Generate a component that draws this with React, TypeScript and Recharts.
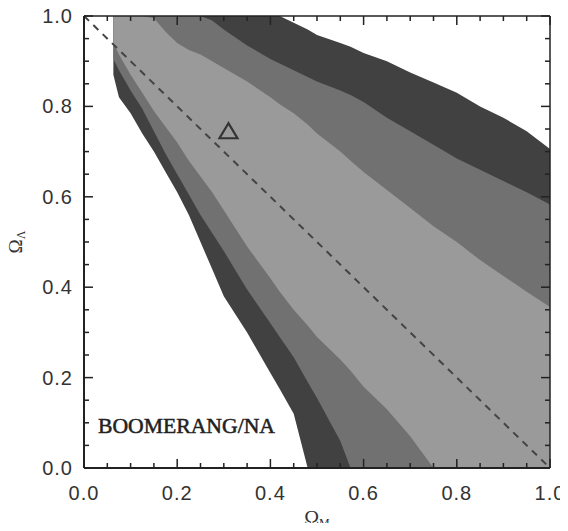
import { ComposedChart, Area, XAxis, YAxis, Scatter, ReferenceLine, ReferenceDot } from "recharts";

// Omega_M samples where the contour edges were read
const omegaM = [0.063, 0.075, 0.1, 0.125, 0.15, 0.175, 0.2, 0.225, 0.25, 0.275, 0.3, 0.35, 0.4, 0.42, 0.45, 0.48, 0.5, 0.55, 0.572, 0.6, 0.65, 0.7, 0.75, 0.8, 0.85, 0.9, 0.95, 1.0];

// outer (dark) band
const darkLow = [0.87, 0.82, 0.785, 0.74, 0.7, 0.655, 0.61, 0.56, 0.5, 0.44, 0.38, 0.3, 0.21, 0.175, 0.12, 0, 0, 0, 0, 0, 0, 0, 0, 0, 0, 0, 0, 0];
const darkHigh = [1, 1, 1, 1, 1, 1, 1, 1, 1, 1, 1, 1, 1, 1, 0.985, 0.97, 0.958, 0.94, 0.932, 0.918, 0.9, 0.875, 0.853, 0.83, 0.8, 0.775, 0.745, 0.706];

// middle band
const midLow = [0.905, 0.88, 0.835, 0.795, 0.745, 0.695, 0.65, 0.605, 0.56, 0.52, 0.48, 0.395, 0.32, 0.29, 0.245, 0.19, 0.155, 0.06, 0, 0, 0, 0, 0, 0, 0, 0, 0, 0];
const midHigh = [1, 1, 1, 1, 1, 1, 1, 1, 1, 0.99, 0.97, 0.935, 0.905, 0.895, 0.88, 0.865, 0.855, 0.835, 0.825, 0.81, 0.775, 0.745, 0.715, 0.685, 0.66, 0.635, 0.61, 0.583];

// inner (light) band
const coreLow = [0.94, 0.915, 0.87, 0.83, 0.79, 0.755, 0.72, 0.68, 0.645, 0.61, 0.57, 0.49, 0.42, 0.39, 0.35, 0.315, 0.29, 0.24, 0.215, 0.18, 0.13, 0.07, 0, 0, 0, 0, 0, 0];
const coreHigh = [1, 1, 1, 1, 0.995, 0.965, 0.94, 0.925, 0.915, 0.9, 0.885, 0.855, 0.82, 0.805, 0.785, 0.76, 0.74, 0.7, 0.68, 0.655, 0.615, 0.575, 0.535, 0.5, 0.46, 0.425, 0.39, 0.356];

const flatLine = [{ x: 0, y: 1 }, { x: 1, y: 0 }];
const bestFit = [{ m: 0.31, l: 0.745 }];
const labelPoint = { m: 0.03, l: 0.077 };

const majorTicks = [0, 0.2, 0.4, 0.6, 0.8, 1.0];
const minorTicks = [0, 0.05, 0.1, 0.15, 0.2, 0.25, 0.3, 0.35, 0.4, 0.45, 0.5, 0.55, 0.6, 0.65, 0.7, 0.75, 0.8, 0.85, 0.9, 0.95, 1.0];

const bands = omegaM.map((m, i) => ({
  m,
  dark: [darkLow[i], darkHigh[i]],
  mid: [midLow[i], midHigh[i]],
  core: [coreLow[i], coreHigh[i]],
}));

const isMajor = (v: number) => majorTicks.some((t) => Math.abs(t - v) < 1e-6);

// inward tick marks on all four sides, one table (side: b, t, l, r)
const tickMarks = [
  ...minorTicks.map((v) => ({ m: v, l: 0, side: "b", len: isMajor(v) ? 9 : 5 })),
  ...minorTicks.map((v) => ({ m: v, l: 1, side: "t", len: isMajor(v) ? 9 : 5 })),
  ...minorTicks.map((v) => ({ m: 0, l: v, side: "l", len: isMajor(v) ? 9 : 5 })),
  ...minorTicks.map((v) => ({ m: 1, l: v, side: "r", len: isMajor(v) ? 9 : 5 })),
];

const AXIS = "#222";
const TICK_FONT = "'Liberation Sans', Arial, sans-serif";
const SERIF = "'Liberation Serif', 'Times New Roman', serif";

const TickMark = (p: any) => {
  const cx = Number(p.cx);
  const cy = Number(p.cy);
  const d = p.payload || {};
  const len = d.len || 5;
  if (d.side === "b") return <rect x={cx - 0.75} y={cy - len} width={1.5} height={len} fill={AXIS} />;
  if (d.side === "t") return <rect x={cx - 0.75} y={cy} width={1.5} height={len} fill={AXIS} />;
  if (d.side === "l") return <rect x={cx} y={cy - 0.75} width={len} height={1.5} fill={AXIS} />;
  return <rect x={cx - len} y={cy - 0.75} width={len} height={1.5} fill={AXIS} />;
};

const NoLabel = () => <g />;

const BottomLabel = ({ x, y, payload }: any) => (
  <text x={x} y={y + 32} textAnchor="middle" fontFamily={TICK_FONT} fontSize={20} letterSpacing={1} fill="#333">
    {payload.value.toFixed(1)}
  </text>
);

const LeftLabel = ({ x, y, payload }: any) => (
  <text x={x - 11} y={y + 7} textAnchor="end" fontFamily={TICK_FONT} fontSize={20} letterSpacing={1} fill="#333">
    {payload.value.toFixed(1)}
  </text>
);

const XTitle = (props: any) => {
  const { x, y, width } = props.viewBox;
  return (
    <text x={x + width / 2} y={y + 57} textAnchor="middle" fontFamily={SERIF} fontSize={20} fill="#333">
      Ω<tspan dy={2} fontSize={12}>M</tspan>
    </text>
  );
};

const YTitle = (props: any) => {
  const { x, y, height } = props.viewBox;
  const cx = x - 2;
  const cy = y + height / 2;
  return (
    <text x={cx} y={cy} transform={`rotate(-90, ${cx}, ${cy})`} textAnchor="middle" fontFamily={SERIF} fontSize={19} fill="#333">
      Ω<tspan dy={3} fontSize={12}>Λ</tspan>
    </text>
  );
};

const TriangleMark = ({ cx, cy }: any) => (
  <polygon points={`${cx},${cy - 8} ${cx - 9},${cy + 7} ${cx + 9},${cy + 7}`} fill="none" stroke="#333" strokeWidth={2.2} />
);

const ExperimentLabel = ({ cx, cy }: any) => (
  <text x={cx} y={cy} fontFamily={SERIF} fontSize={21} fill="#222" stroke="#222" strokeWidth={0.5} textLength={177} lengthAdjust="spacingAndGlyphs">
    BOOMERANG/NA
  </text>
);

// mirrored helper axes: native tick lines drawn inside the box
const tickAxisProps = {
  type: "number" as const,
  domain: [0, 1],
  mirror: true,
  interval: 0,
  axisLine: false,
  tickMargin: 0,
  tick: NoLabel,
  tickLine: { stroke: AXIS, strokeWidth: 1.5 },
};

export default function App() {
  return (
    <div style={{ width: 568, height: 531, margin: -8 }}>
      <ComposedChart width={568} height={531} data={bands} margin={{ top: 16, right: 18, bottom: 0, left: 24 }}>
        <XAxis
          dataKey="m"
          type="number"
          domain={[0, 1]}
          ticks={majorTicks}
          interval={0}
          tickSize={0}
          tickMargin={0}
          tickLine={false}
          tick={BottomLabel}
          height={63}
          axisLine={{ stroke: AXIS, strokeWidth: 2 }}
          label={XTitle}
        />
        <YAxis
          type="number"
          domain={[0, 1]}
          ticks={majorTicks}
          interval={0}
          tickSize={0}
          tickMargin={0}
          tickLine={false}
          tick={LeftLabel}
          width={60}
          axisLine={{ stroke: AXIS, strokeWidth: 2 }}
          label={YTitle}
        />
        <XAxis xAxisId="bMinor" orientation="bottom" height={0} ticks={minorTicks} tickSize={5} {...tickAxisProps} />
        <XAxis xAxisId="bMajor" orientation="bottom" height={0} ticks={majorTicks} tickSize={9} {...tickAxisProps} />
        <XAxis xAxisId="tMinor" orientation="top" height={0} ticks={minorTicks} tickSize={5} {...tickAxisProps} />
        <XAxis xAxisId="tMajor" orientation="top" height={0} ticks={majorTicks} tickSize={9} {...tickAxisProps} />
        <YAxis yAxisId="lMinor" orientation="left" width={0} ticks={minorTicks} tickSize={5} {...tickAxisProps} />
        <YAxis yAxisId="lMajor" orientation="left" width={0} ticks={majorTicks} tickSize={9} {...tickAxisProps} />
        <YAxis yAxisId="rMinor" orientation="right" width={0} ticks={minorTicks} tickSize={5} {...tickAxisProps} />
        <YAxis yAxisId="rMajor" orientation="right" width={0} ticks={majorTicks} tickSize={9} {...tickAxisProps} />

        <Area type="linear" dataKey="dark" stroke="none" fill="#414141" fillOpacity={1} dot={false} activeDot={false} isAnimationActive={false} />
        <Area type="linear" dataKey="mid" stroke="none" fill="#717171" fillOpacity={1} dot={false} activeDot={false} isAnimationActive={false} />
        <Area type="linear" dataKey="core" stroke="none" fill="#9a9a9a" fillOpacity={1} dot={false} activeDot={false} isAnimationActive={false} />
        <ReferenceLine segment={flatLine} stroke="#444" strokeWidth={2} strokeDasharray="7 6" />

        {/* frame: top and right edges */}
        <ReferenceLine y={1} stroke={AXIS} strokeWidth={1.5} />
        <ReferenceLine x={1} stroke={AXIS} strokeWidth={1.5} />

        <Scatter data={bestFit} dataKey="l" shape={TriangleMark} isAnimationActive={false} />
        <Scatter data={tickMarks} dataKey="l" shape={TickMark} isAnimationActive={false} />
        <ReferenceDot x={labelPoint.m} y={labelPoint.l} r={0} shape={ExperimentLabel} />
      </ComposedChart>
    </div>
  );
}
